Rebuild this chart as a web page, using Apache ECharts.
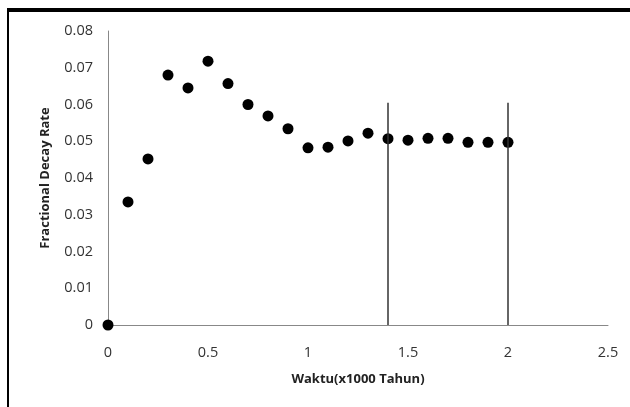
<!DOCTYPE html>
<html>
<head>
<meta charset="utf-8">
<script src="https://cdn.jsdelivr.net/npm/echarts@6/dist/echarts.min.js"></script>
<style>
  html, body { margin: 0; padding: 0; background: #fff; }
  #chart { width: 630px; height: 407px; }
</style>
</head>
<body>
<div id="chart"></div>
<script>
// waktu (x1000 tahun) and fractional decay rate
const waktu = [0, 0.1, 0.2, 0.3, 0.4, 0.5, 0.6, 0.7, 0.8, 0.9, 1.0,
  1.1, 1.2, 1.3, 1.4, 1.5, 1.6, 1.7, 1.8, 1.9, 2.0]
const decayRate = [0, 0.0335, 0.0452, 0.068, 0.0645, 0.0718, 0.0657, 0.06, 0.0569, 0.0534, 0.0482,
  0.0484, 0.0501, 0.0522, 0.0507, 0.0503, 0.0508, 0.0508, 0.0497, 0.0497, 0.0497]
// the two vertical marker lines
const markerX = [1.4, 2.0]
const markerTop = 0.0605

const chart = echarts.init(document.getElementById('chart'))
const font = '"Open Sans", Lato, sans-serif'

chart.setOption({
  animation: false,
  backgroundColor: '#fff',
  grid: {
    left: 108,
    right: 22,
    top: 31,
    bottom: 82,
    containLabel: false
  },
  xAxis: {
    type: 'value',
    min: 0,
    max: 2.5,
    interval: 0.5,
    name: 'Waktu(x1000 Tahun)',
    nameLocation: 'middle',
    nameGap: 48,
    nameTextStyle: { fontFamily: font, fontWeight: 'bold', fontSize: 13, color: '#222' },
    axisLine: { lineStyle: { color: '#888', width: 1 } },
    axisTick: { show: false },
    splitLine: { show: false },
    axisLabel: { fontFamily: font, fontSize: 14.5, color: '#333', margin: 20 }
  },
  yAxis: {
    type: 'value',
    min: 0,
    max: 0.08,
    interval: 0.01,
    name: 'Fractional Decay Rate',
    nameLocation: 'middle',
    nameGap: 56,
    nameTextStyle: { fontFamily: font, fontWeight: 'bold', fontSize: 13, color: '#222' },
    axisLine: { show: true, lineStyle: { color: '#888', width: 1 } },
    axisTick: { show: false },
    splitLine: { show: false },
    axisLabel: { fontFamily: font, fontSize: 14.5, color: '#333', margin: 15 }
  },
  graphic: [
    // outer frame, top and left edges only
    { type: 'rect', shape: { x: 7, y: 8, width: 623, height: 4 }, style: { fill: '#000' } },
    { type: 'rect', shape: { x: 7, y: 8, width: 2, height: 399 }, style: { fill: '#000' } }
  ],
  series: [{
    type: 'scatter',
    data: waktu.map((x, i) => [x, decayRate[i]]),
    symbol: 'circle',
    symbolSize: 11,
    itemStyle: { color: '#000', opacity: 1 },
    z: 3,
    markLine: {
      silent: true,
      symbol: 'none',
      label: { show: false },
      lineStyle: { color: '#333', width: 1.5, type: 'solid' },
      data: markerX.map(x => [{ coord: [x, 0] }, { coord: [x, markerTop] }])
    }
  }]
})
</script>
</body>
</html>
